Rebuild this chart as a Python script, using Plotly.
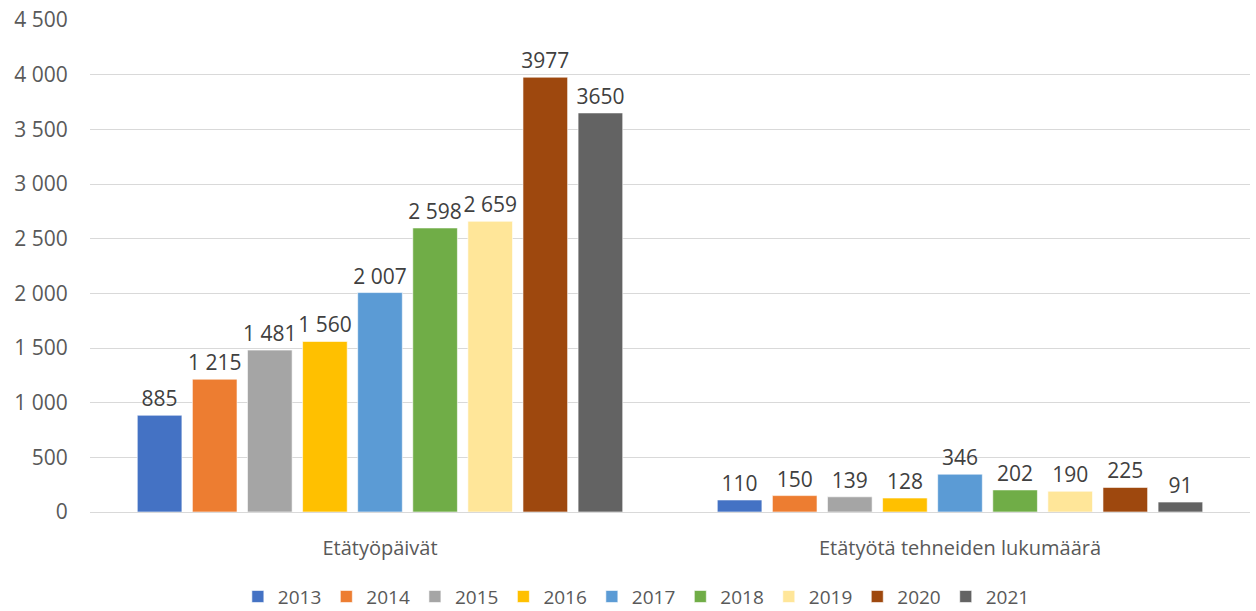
import plotly.graph_objects as go

categories = ["Etätyöpäivät", "Etätyötä tehneiden lukumäärä"]
years = ["2013", "2014", "2015", "2016", "2017", "2018", "2019", "2020", "2021"]
values = [
    [885, 110],
    [1215, 150],
    [1481, 139],
    [1560, 128],
    [2007, 346],
    [2598, 202],
    [2659, 190],
    [3977, 225],
    [3650, 91],
]
labels = [
    ["885", "110"],
    ["1 215", "150"],
    ["1 481", "139"],
    ["1 560", "128"],
    ["2 007", "346"],
    ["2 598", "202"],
    ["2 659", "190"],
    ["3977", "225"],
    ["3650", "91"],
]
colors = ["#4472C4", "#ED7D31", "#A5A5A5", "#FFC000", "#5B9BD5",
          "#70AD47", "#FFE699", "#9E480E", "#636363"]
y_ticks = [0, 500, 1000, 1500, 2000, 2500, 3000, 3500, 4000, 4500]

FONT = "'Open Sans', sans-serif"

fig = go.Figure()
for yr, vals, txt, col in zip(years, values, labels, colors):
    fig.add_trace(go.Bar(
        name=yr, x=categories, y=vals, text=txt,
        textposition="outside", constraintext="none", cliponaxis=False,
        textfont=dict(family=FONT, size=21, color="#404040"),
        marker=dict(color=col, line=dict(color="rgba(255,255,255,0.6)", width=1)),
    ))

fig.update_layout(
    barmode="group", bargap=0.145, bargroupgap=0.19,
    width=1256, height=611,
    margin=dict(l=90, r=6, t=20, b=99, autoexpand=False),
    paper_bgcolor="white", plot_bgcolor="white",
    separators=", ",
    font=dict(family=FONT, color="#595959"),
    legend=dict(orientation="h", x=0.471, xanchor="center", y=-0.172, yanchor="middle",
                font=dict(family=FONT, size=19, color="#595959"),
                itemwidth=30, tracegroupgap=0),
    xaxis=dict(tickfont=dict(family=FONT, size=20, color="#595959"), automargin=False,
               showline=True, linecolor="#D9D9D9", linewidth=1, ticks="outside",
               ticklen=18, tickcolor="white"),
    yaxis=dict(range=[0, 4500], tickvals=y_ticks, tickformat=",d", automargin=False,
               tickfont=dict(family=FONT, size=21, color="#595959"),
               gridcolor="#D9D9D9", gridwidth=1, zeroline=False,
               ticks="outside", ticklen=17, tickcolor="white"),
)

fig.write_html("out.html", config={"displayModeBar": False},
               post_script="document.body.style.margin='0px';")
